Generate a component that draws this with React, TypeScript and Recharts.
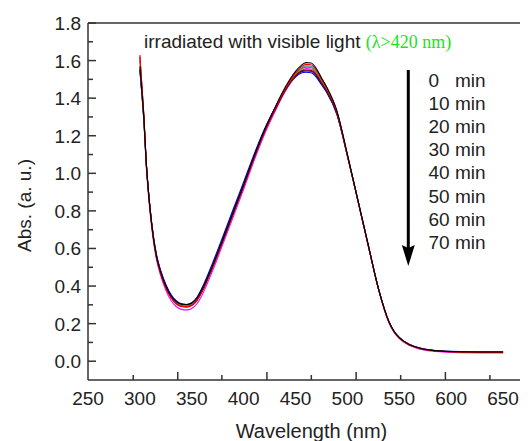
import React from "react";
import { LineChart, Line, XAxis, YAxis, ReferenceLine } from "recharts";

// Wavelengths (nm)
const WL = [300, 302, 304, 306, 308, 310, 313, 316, 320, 325, 330, 335, 340, 345, 350, 355, 360, 370, 380, 390, 400, 410, 420, 430, 440, 450, 455, 460, 465, 470, 475, 480, 490, 500, 510, 520, 530, 540, 545, 550, 560, 570, 580, 600, 650];

// Absorbance per irradiation time
const S0 = [1.57, 1.43, 1.28, 1.07, 0.92, 0.80, 0.66, 0.56, 0.475, 0.400, 0.347, 0.317, 0.304, 0.302, 0.310, 0.335, 0.382, 0.507, 0.648, 0.793, 0.938, 1.088, 1.228, 1.348, 1.458, 1.543, 1.572, 1.589, 1.587, 1.558, 1.508, 1.460, 1.330, 1.100, 0.860, 0.620, 0.385, 0.210, 0.158, 0.125, 0.088, 0.069, 0.059, 0.052, 0.049];
const S10 = [1.63, 1.46, 1.29, 1.07, 0.92, 0.80, 0.655, 0.555, 0.470, 0.394, 0.340, 0.308, 0.294, 0.291, 0.299, 0.325, 0.373, 0.500, 0.642, 0.788, 0.933, 1.083, 1.222, 1.342, 1.451, 1.535, 1.564, 1.580, 1.578, 1.550, 1.502, 1.455, 1.327, 1.098, 0.859, 0.619, 0.384, 0.209, 0.157, 0.124, 0.087, 0.068, 0.058, 0.051, 0.048];
const S20 = [1.56, 1.42, 1.27, 1.06, 0.915, 0.795, 0.655, 0.556, 0.472, 0.397, 0.344, 0.313, 0.299, 0.297, 0.305, 0.331, 0.378, 0.503, 0.644, 0.789, 0.934, 1.084, 1.223, 1.341, 1.449, 1.530, 1.557, 1.572, 1.570, 1.543, 1.497, 1.451, 1.324, 1.097, 0.858, 0.619, 0.384, 0.210, 0.158, 0.125, 0.088, 0.069, 0.059, 0.052, 0.049];
const S30 = [1.60, 1.45, 1.285, 1.07, 0.92, 0.80, 0.657, 0.556, 0.471, 0.395, 0.342, 0.311, 0.297, 0.294, 0.302, 0.328, 0.375, 0.501, 0.642, 0.787, 0.932, 1.082, 1.220, 1.338, 1.445, 1.525, 1.551, 1.565, 1.563, 1.537, 1.492, 1.447, 1.321, 1.096, 0.858, 0.619, 0.384, 0.209, 0.157, 0.124, 0.087, 0.068, 0.058, 0.051, 0.048];
const S40 = [1.56, 1.42, 1.26, 1.05, 0.90, 0.78, 0.64, 0.540, 0.455, 0.378, 0.323, 0.291, 0.276, 0.273, 0.281, 0.306, 0.353, 0.480, 0.623, 0.769, 0.915, 1.066, 1.206, 1.326, 1.435, 1.516, 1.543, 1.557, 1.555, 1.530, 1.486, 1.442, 1.318, 1.094, 0.856, 0.616, 0.381, 0.205, 0.153, 0.120, 0.083, 0.064, 0.054, 0.047, 0.044];
const S50 = [1.62, 1.46, 1.29, 1.07, 0.92, 0.80, 0.655, 0.553, 0.468, 0.392, 0.338, 0.306, 0.291, 0.288, 0.296, 0.322, 0.370, 0.497, 0.640, 0.786, 0.931, 1.081, 1.219, 1.335, 1.440, 1.518, 1.543, 1.550, 1.548, 1.524, 1.481, 1.438, 1.315, 1.093, 0.856, 0.617, 0.383, 0.209, 0.157, 0.124, 0.087, 0.068, 0.058, 0.051, 0.048];
const S60 = [1.55, 1.42, 1.27, 1.065, 0.918, 0.80, 0.662, 0.563, 0.479, 0.404, 0.350, 0.318, 0.303, 0.300, 0.309, 0.336, 0.385, 0.512, 0.654, 0.799, 0.943, 1.092, 1.229, 1.343, 1.444, 1.517, 1.539, 1.545, 1.543, 1.520, 1.478, 1.436, 1.314, 1.093, 0.857, 0.618, 0.384, 0.210, 0.158, 0.125, 0.088, 0.069, 0.059, 0.052, 0.049];
const S70 = [1.55, 1.42, 1.27, 1.07, 0.922, 0.805, 0.667, 0.568, 0.484, 0.409, 0.355, 0.322, 0.305, 0.301, 0.311, 0.340, 0.392, 0.522, 0.664, 0.810, 0.954, 1.101, 1.235, 1.346, 1.443, 1.512, 1.532, 1.538, 1.535, 1.512, 1.471, 1.430, 1.310, 1.092, 0.857, 0.618, 0.384, 0.211, 0.159, 0.126, 0.089, 0.070, 0.060, 0.053, 0.050];

// Axis ticks
const X_LABELS = [250, 300, 350, 400, 450, 500, 550, 600, 650];
const X_MARKS_MAJOR = [336.5, 422.4, 508.4, 594.4];
const X_MARKS_MINOR = [293.6, 379.0, 465.2, 551.3, 637.3];
const Y_TICKS = [0, 0.1, 0.2, 0.3, 0.4, 0.5, 0.6, 0.7, 0.8, 0.9, 1.0, 1.1, 1.2, 1.3, 1.4, 1.5, 1.6, 1.7, 1.8];

const LEGEND_NUMS = ["0", "10", "20", "30", "40", "50", "60", "70"];

const SERIES = [
  { key: "s70", values: S70, color: "#0000ff" },
  { key: "s40", values: S40, color: "#ff00ff" },
  { key: "s60", values: S60, color: "#000080" },
  { key: "s20", values: S20, color: "#00a8a8" },
  { key: "s30", values: S30, color: "#808000" },
  { key: "s50", values: S50, color: "#800000" },
  { key: "s10", values: S10, color: "#ff0000" },
  { key: "s0", values: S0, color: "#000000" },
];

const DATA = WL.map((wl, i) => {
  const row: Record<string, number> = { wl };
  SERIES.forEach((s) => {
    row[s.key] = s.values[i];
  });
  return row;
});

const AXIS = "#333333";
const FONT = "'Liberation Sans', Arial, sans-serif";
const ALL_X_TICKS = [...X_LABELS, ...X_MARKS_MAJOR, ...X_MARKS_MINOR].sort((a, b) => a - b);

const XTick = (props: any) => {
  const { x, y, payload } = props;
  const v = payload.value;
  if (X_LABELS.includes(v)) {
    return (
      <text x={x} y={y + 24.6} textAnchor="middle" fontSize={19} fill="#222" fontFamily={FONT}>
        {v}
      </text>
    );
  }
  const len = X_MARKS_MAJOR.includes(v) ? 8 : 5;
  return <line x1={x} x2={x} y1={y} y2={y - len} stroke={AXIS} strokeWidth={1.5} />;
};

const YTick = (props: any) => {
  const { x, y, payload } = props;
  const v = payload.value;
  const major = Math.round(v * 10) % 2 === 0;
  return (
    <g>
      <line x1={x} x2={x + (major ? 8 : 5)} y1={y} y2={y} stroke={AXIS} strokeWidth={1.5} />
      {major && (
        <text x={x - 7} y={y + 7} textAnchor="end" fontSize={19} fill="#222" fontFamily={FONT}>
          {v.toFixed(1)}
        </text>
      )}
    </g>
  );
};

export default function App() {
  const arrowX = 400.3;
  return (
    <div style={{ position: "relative", width: 520, height: 433, fontFamily: FONT }}>
      <LineChart width={520} height={433} data={DATA} margin={{ top: 15, right: 0, bottom: 0, left: 0 }}>
        <XAxis
          dataKey="wl"
          type="number"
          domain={[250, 674]}
          allowDataOverflow
          ticks={ALL_X_TICKS}
          interval={0}
          tick={XTick}
          tickLine={false}
          tickSize={0}
          tickMargin={0}
          height={61}
          axisLine={{ stroke: AXIS, strokeWidth: 1.5 }}
        />
        <YAxis
          type="number"
          domain={[-0.1, 1.8]}
          allowDataOverflow
          ticks={Y_TICKS}
          interval={0}
          tick={YTick}
          tickLine={false}
          tickSize={0}
          tickMargin={0}
          width={80}
          axisLine={{ stroke: AXIS, strokeWidth: 1.5 }}
        />
        <ReferenceLine y={1.8} stroke={AXIS} strokeWidth={1.5} />
        {SERIES.map((s) => (
          <Line
            key={s.key}
            dataKey={s.key}
            type="monotone"
            stroke={s.color}
            strokeWidth={1.1}
            dot={false}
            isAnimationActive={false}
          />
        ))}
      </LineChart>
      <svg width={520} height={433} style={{ position: "absolute", left: 0, top: 0, pointerEvents: "none" }}>
        <text x={136} y={40} fontSize={19} fill="#222" fontFamily={FONT}>
          irradiated with visible light{" "}
          <tspan fill="#22e022" fontFamily="'Liberation Serif', 'Times New Roman', serif" fontSize={18}>
            (λ&gt;420 nm)
          </tspan>
        </text>
        <line x1={arrowX} x2={arrowX} y1={62} y2={242} stroke="#000" strokeWidth={3} />
        <polygon
          points={`${arrowX - 6.5},237 ${arrowX},240 ${arrowX + 6.5},237 ${arrowX},258`}
          fill="#000"
        />
        {LEGEND_NUMS.map((n, i) => (
          <g key={n}>
            <text x={420.5} y={78.8 + i * 23.15} fontSize={19} fill="#222" fontFamily={FONT}>
              {n}
            </text>
            <text x={447} y={78.8 + i * 23.15} fontSize={19} fill="#222" fontFamily={FONT}>
              min
            </text>
          </g>
        ))}
        <text x={303.5} y={430} textAnchor="middle" fontSize={20} fill="#222" fontFamily={FONT}>
          Wavelength (nm)
        </text>
        <text
          x={23}
          y={197.5}
          transform="rotate(-90, 23, 197.5)"
          textAnchor="middle"
          fontSize={19}
          fill="#222"
          fontFamily={FONT}
        >
          Abs. (a. u.)
        </text>
      </svg>
    </div>
  );
}
